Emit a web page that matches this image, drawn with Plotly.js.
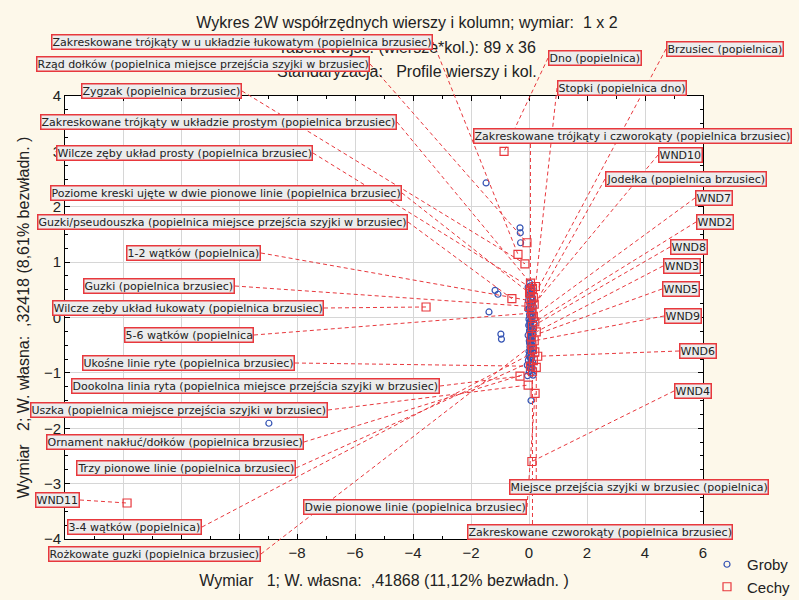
<!DOCTYPE html>
<html><head><meta charset="utf-8">
<script src="https://cdn.plot.ly/plotly-3.0.1.min.js"></script>
<style>html,body{margin:0;padding:0;background:#fdf8ea}</style>
</head><body><div id="chart" style="width:799px;height:600px"></div>
<script>
// ---- data: Groby (rows) ----
const grobyX = [-1.48,-0.31,-0.30,-0.29,-1.17,-1.07,-1.38,-0.97,-0.95,-8.97,0.07,-0.05,
 0.02,0.05,-0.03,0.08,0.10,0.04,0.00,0.12,0.06,-0.02,
 0.09,0.03,0.07,0.15,0.01,-0.04,0.11,0.05,0.08,0.02,
 0.13,0.06,0.00,0.10,0.04,0.07,0.18,0.03,-0.01,0.09,
 0.05,0.12,0.02,0.08,0.14,0.06,-0.03,0.10,0.04,0.07,
 0.01,0.11,0.05,0.09,0.03,0.16,0.06,0.00,0.12,0.08,
 0.02,0.10,0.04,0.07,-0.02,0.13,0.05,0.09,0.03,0.11,
 0.06,0.01,0.08,0.14,0.04,0.10,0.02,0.07,0.05,0.12,
 0.03,0.09,-0.06,0.06,0.11,0.00,0.04];
const grobyY = [2.43,1.62,1.53,1.35,0.49,0.42,0.10,-0.30,-0.39,-1.91,-1.50,-1.05,
 0.62,0.57,0.55,0.49,0.47,0.43,0.41,0.36,0.33,0.31,
 0.27,0.25,0.21,0.20,0.16,0.15,0.11,0.10,0.06,0.05,
 0.02,0.01,-0.03,-0.04,-0.07,-0.08,-0.11,-0.12,-0.14,-0.18,
 -0.19,-0.22,-0.23,-0.27,-0.28,-0.31,-0.32,-0.36,-0.37,-0.41,
 -0.42,-0.44,-0.48,-0.50,-0.53,-0.55,-0.56,-0.61,-0.62,-0.66,
 -0.67,-0.71,-0.72,-0.76,-0.77,-0.81,-0.83,-0.85,-0.89,-0.91,
 -0.93,-0.98,-1.00,-1.04,-0.16,0.35,-0.46,0.18,-0.59,0.04,
 -0.25,0.43,-0.86,-0.34,0.52,-0.69,-0.09];

// ---- data: Cechy (columns) ----
const cechyNames = [
 "Zakreskowane trójkąty w u układzie łukowatym (popielnica brzusiec)",
 "Rząd dołków (popielnica miejsce przejścia szyjki w brzusiec)",
 "Zygzak (popielnica brzusiec)",
 "Zakreskowane trójkąty w układzie prostym (popielnica brzusiec)",
 "Wilcze zęby układ prosty (popielnica brzusiec)",
 "Poziome kreski ujęte w dwie pionowe linie (popielnica brzusiec)",
 "Guzki/pseudouszka (popielnica miejsce przejścia szyjki w brzusiec)",
 "1-2 wątków (popielnica)",
 "Guzki (popielnica brzusiec)",
 "Wilcze zęby układ łukowaty (popielnica brzusiec)",
 "5-6 wątków (popielnica",
 "Ukośne linie ryte (popielnica brzusiec)",
 "Dookolna linia ryta (popielnica miejsce przejścia szyjki w brzusiec)",
 "Uszka (popielnica miejsce przejścia szyjki w brzusiec)",
 "Ornament nakłuć/dołków (popielnica brzusiec)",
 "Trzy pionowe linie (popielnica brzusiec)",
 "WND11",
 "3-4 wątków (popielnica)",
 "Rożkowate guzki (popielnica brzusiec)",
 "Dwie pionowe linie (popielnica brzusiec)",
 "Dno (popielnica)",
 "Brzusiec (popielnica)",
 "Stopki (popielnica dno)",
 "Zakreskowane trójkąty i czworokąty (popielnica brzusiec)",
 "WND10",
 "Jodełka (popielnica brzusiec)",
 "WND7","WND2","WND8","WND3","WND5","WND9","WND6","WND4",
 "Miejsce przejścia szyjki w brzusiec (popielnica)",
 "Zakreskowane czworokąty (popielnica brzusiec)"];
const cechyX = [-0.38,-0.07,-0.14,0.05,0.12,0.02,-0.59,0.08,0.00,-3.55,0.10,0.05,-0.31,-0.03,0.12,0.15,-13.86,0.20,0.10,0.21,
 -0.86,0.15,0.22,0.05,0.18,0.10,0.15,0.20,0.12,0.25,0.08,0.18,0.30,0.10,0.25,0.12];
const cechyY = [1.14,1.35,0.97,0.62,0.52,0.44,0.34,0.30,0.20,0.19,0.08,-0.88,-1.06,-1.22,-0.98,-0.78,-3.35,-0.62,-0.50,-1.37,
 3.00,0.36,0.56,0.48,0.24,0.14,0.02,-0.08,-0.16,-0.26,-0.34,-0.42,-0.70,-2.60,-0.90,-0.58];

// ---- layout: label boxes in figure pixels [left, right, centerY] ----
const labelBoxes = [
 [47,433,42],[23,370,64],[77,242,91],[35,397,122],[51,313,153],[37,402,193],[23,408,222],
 [120,261,253],[77,235,286],[48,324,308],[118,254,335],[75,295,363],[62,440,386],[19,328,410],
 [36,304,442],[70,296,468],[32,80,500],[62,202,527],[41,261,554],[294,527,507],
 [548,646,58],[666,786,49],[557,694,88],[473,796,136],[658,708,155],[605,774,179],
 [695,737,198],[696,739,222],[670,714,247],[663,707,266],[662,705,289],[664,707,316],
 [679,722,351],[674,718,391],[509,777,487],[467,739,532]];

const X_RANGE=[-16,6], Y_RANGE=[-4,4];
const W=799,H=600, M={l:65,r:96,t:96,b:61};
const PW=W-M.l-M.r, PH=H-M.t-M.b;
const RED='#e8383d', BLUE='#3554b4';
const pxX = px => (px-M.l)/PW;
const pxY = py => (H-M.b-py)/PH;
const dX = x => (x-X_RANGE[0])/(X_RANGE[1]-X_RANGE[0]);
const dY = y => (y-Y_RANGE[0])/(Y_RANGE[1]-Y_RANGE[0]);
const toPixX = x => M.l + dX(x)*PW;
const toPixY = y => H-M.b - dY(y)*PH;

const shapes=[], annotations=[];
annotations.push({xref:'paper',yref:'paper',x:pxX(407),y:pxY(47),text:'Tabela wejść: (wiersze*kol.): 89 x 36',showarrow:false,
  font:{family:'Liberation Sans, Arial',size:16,color:'#222'},xanchor:'center',yanchor:'middle'});
annotations.push({xref:'paper',yref:'paper',x:pxX(407),y:pxY(72),text:'Standaryzacja:   Profile wierszy i kol.',showarrow:false,
  font:{family:'Liberation Sans, Arial',size:16,color:'#222'},xanchor:'center',yanchor:'middle'});

cechyNames.forEach((name,i)=>{
  const [L,R,cy]=labelBoxes[i];
  const px=toPixX(cechyX[i]), py=toPixY(cechyY[i]);
  let sx, sy, ann={xref:'paper',yref:'paper',text:name,showarrow:false,
    font:{family:'DejaVu Sans',size:11,color:'#222'},
    bgcolor:'#ececec',bordercolor:RED,borderwidth:1.5,borderpad:0,yanchor:'middle',y:pxY(cy)};
  if (R < px) { sx=R; sy=cy; ann.x=pxX(R); ann.xanchor='right'; }
  else if (L > px) { sx=L; sy=cy; ann.x=pxX(L); ann.xanchor='left'; }
  else { sx=Math.min(Math.max(px,L+10),R-10); sy = py<cy ? cy-8 : cy+8; ann.x=pxX(L); ann.xanchor='left'; }
  shapes.push({type:'line',xref:'paper',yref:'paper',x0:pxX(sx),y0:pxY(sy),x1:dX(cechyX[i]),y1:dY(cechyY[i]),
    line:{color:RED,width:1,dash:'4px,3px'},layer:'above'});
  annotations.push(ann);
});

const traces=[
 {type:'scatter',mode:'markers',name:'Groby',x:grobyX,y:grobyY,legendgroup:'a',
  marker:{symbol:'circle-open',size:6,color:BLUE,line:{width:1.2,color:BLUE}}},
 {type:'scatter',mode:'markers',name:'Cechy',x:cechyX,y:cechyY,legendgroup:'b',
  marker:{symbol:'square-open',size:8,color:RED,line:{width:1.2,color:RED}}}
];
const axFont={family:'Liberation Sans, Arial',size:15,color:'#222'};
const layout={
 width:W,height:H,margin:M,paper_bgcolor:'#fdf8ea',plot_bgcolor:'#ffffff',
 title:{text:'Wykres 2W współrzędnych wierszy i kolumn; wymiar:  1 x 2',x:407/W,xanchor:'center',y:1-22/H,yanchor:'middle',
   font:{family:'Liberation Sans, Arial',size:16,color:'#222'}},
 xaxis:{range:X_RANGE,dtick:2,tick0:0,automargin:false,showgrid:true,gridcolor:'#d6d6d6',zeroline:false,showline:true,linecolor:'#000',linewidth:1,
   mirror:'ticks',ticks:'inside',ticklen:5,tickcolor:'#000',tickfont:axFont,
   minor:{dtick:1,ticks:'inside',ticklen:3,tickcolor:'#000',showgrid:false},
   title:{text:'Wymiar   1; W. własna:  ,41868 (11,12% bezwładn. )',font:{family:'Liberation Sans, Arial',size:16,color:'#222'},standoff:14}},
 yaxis:{range:Y_RANGE,dtick:1,tick0:0,automargin:false,showgrid:true,gridcolor:'#d6d6d6',zeroline:false,showline:true,linecolor:'#000',linewidth:1,
   mirror:'ticks',ticks:'inside',ticklen:5,tickcolor:'#000',tickfont:axFont,
   minor:{dtick:0.25,ticks:'inside',ticklen:3,tickcolor:'#000',showgrid:false},
   title:{text:'Wymiar   2; W. własna:  ,32418 (8,61% bezwładn. )',font:{family:'Liberation Sans, Arial',size:16,color:'#222'},standoff:10}},
 showlegend:true,
 legend:{xref:'container',yref:'container',x:707/W,y:1-548/H,xanchor:'left',yanchor:'top',bgcolor:'rgba(0,0,0,0)',font:{family:'Liberation Sans, Arial',size:15,color:'#222'},
   traceorder:'grouped',tracegroupgap:0},
 shapes:shapes,annotations:annotations
};
Plotly.newPlot('chart',traces,layout,{displayModeBar:false,staticPlot:true});
</script></body></html>
